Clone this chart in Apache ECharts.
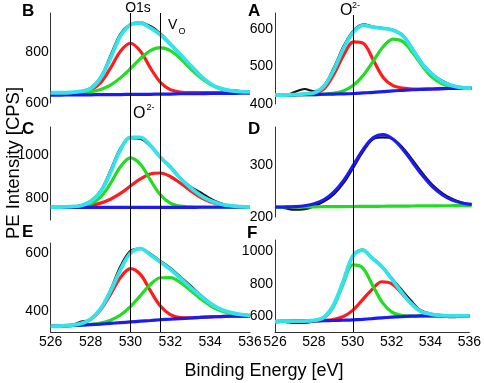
<!DOCTYPE html>
<html><head><meta charset="utf-8">
<script src="https://cdn.jsdelivr.net/npm/echarts@6/dist/echarts.min.js"></script>
<style>html,body{margin:0;padding:0;background:#fff}#c{width:484px;height:383px}</style>
</head><body><div id="c"></div>
<script>
// ---- data ----
const energy = [526, 526.5, 527, 527.5, 528, 528.5, 529, 529.5, 530, 530.5, 531, 531.5, 532, 532.5, 533, 533.5, 534, 534.5, 535, 535.5, 536];
const xTicks = [526, 528, 530, 532, 534, 536];
const refLinesLeft = [530, 531.5];
const refLinesRight = [530];

// Panel B
const bBlack = [642, 639, 640, 646, 659, 700, 785, 870, 907, 915, 900, 872, 832, 788, 745, 705, 674, 655, 650, 646, 641];
const bCyan  = [640, 640, 641, 645, 656, 697, 775, 862, 905, 912, 893, 866, 830, 790, 748, 708, 676, 657, 648, 644, 643];
const bRed   = [637, 637, 638, 640, 650, 679, 736, 802, 833, 802, 737, 681, 652, 643, 641, 641, 641, 641, 642, 642, 642];
const bGreen = [637, 637, 638, 640, 644, 653, 670, 698, 734, 773, 804, 816, 804, 774, 735, 700, 673, 656, 648, 644, 643];
const bBlue  = [631, 631, 632, 632, 632, 633, 633, 633, 634, 634, 634, 635, 635, 636, 636, 636, 637, 637, 637, 638, 638];
const yTicksB = [600, 800];

// Panel A
const aBlack = [425, 423, 432, 440, 434, 450, 498, 556, 597, 613, 607, 603, 598, 584, 548, 508, 480, 462, 450, 443, 441];
const aCyan  = [424, 424, 425, 427, 430, 448, 492, 550, 593, 610, 605, 602, 597, 582, 545, 506, 479, 460, 449, 444, 442];
const aRed   = [424, 424, 424.5, 425.5, 428, 441, 480, 532, 566, 561.5, 517, 471, 449, 442.5, 440, 439.5, 440, 441, 441.5, 442, 442];
const aGreen = [424, 424, 424.5, 425, 425, 426.5, 429, 435.5, 450.5, 477.5, 515, 553, 573, 566.5, 537, 501, 471, 454, 446, 443, 442];
const aBlue  = [424, 424, 424.5, 425, 425, 426, 426.5, 427, 428, 429.5, 431, 433, 435, 436.5, 438, 439, 440, 441, 441.5, 442, 442];
const yTicksA = [400, 500, 600];

// Panel C
const cBlack = [758, 762, 760, 768, 788, 835, 930, 1032, 1078, 1075, 1042, 992, 948, 895, 855, 828, 800, 778, 766, 761, 759];
const cCyan  = [760, 760, 762, 766, 785, 830, 920, 1025, 1082, 1082, 1045, 990, 945, 893, 850, 815, 790, 774, 766, 762, 760];
const cGreen = [760, 760, 760.5, 763, 774, 806, 869, 946, 987, 958, 885, 816.5, 778, 764, 761, 760, 760, 760, 760, 760, 760];
const cRed   = [760, 760.3, 761, 763, 767.7, 778, 796, 822.8, 857, 890, 912.8, 917.4, 901.2, 871, 836.5, 805.8, 784.1, 771, 764.4, 761.5, 760.4];
const cBlue  = [758, 758, 758, 758, 758, 758, 758, 758, 758, 758, 758.5, 758.5, 758.5, 758.5, 758.5, 759, 759, 759, 759, 759, 759];
const yTicksC = [800, 1000];

// Panel D
const dBlack = [220, 217, 214, 215, 221, 230, 244, 266, 296, 327, 350, 353, 350, 333, 309, 284, 262, 246, 235, 228, 224];
const dBlue  = [219, 219.4, 220, 221.6, 225.4, 233.5, 248.3, 271, 300.8, 330.9, 352.5, 358.4, 349.4, 330, 304.8, 279.6, 258.2, 242.7, 232.7, 227, 224.2];
const dGreen = [219, 219.2, 219.3, 219.5, 219.6, 219.8, 219.9, 220.1, 220.2, 220.4, 220.5, 220.7, 220.8, 221, 221.1, 221.3, 221.4, 221.6, 221.7, 221.9, 222];
const yTicksD = [200, 300];

// Panel E
const eBlack = [350, 351, 352, 365, 372, 410, 475, 555, 608, 616, 598, 574, 550, 520, 490, 458, 430, 408, 394, 388, 386];
const eCyan  = [349, 350.5, 353.1, 358.7, 373.9, 409.2, 469.8, 542.9, 600, 615.5, 594.5, 570, 545, 515, 484, 455, 428, 409, 397, 390, 387];
const eRed   = [349, 350.5, 353.1, 358.5, 372.8, 405.4, 458.9, 516.8, 547.5, 527.6, 471.5, 419, 389.8, 379.8, 378.7, 380, 381.5, 383, 384, 384.5, 385];
const eGreen = [349, 350.5, 352, 353.7, 356.1, 360.8, 370.4, 388.1, 417, 454.9, 492.5, 515.9, 516.5, 499.8, 473.5, 445.1, 420.7, 403.9, 394, 388.7, 386.6];
const eBlue  = [349, 350.5, 352, 353.5, 355, 357, 359.5, 362, 364.5, 367, 369.5, 372, 374, 376, 378, 380, 381.5, 383, 384, 384.5, 385];
const yTicksE = [400, 600];

// Panel F
const fBlack = [566, 562, 556, 557, 566, 585, 655, 815, 975, 1012, 962, 910, 836, 765, 695, 632, 608, 598, 592, 594, 598];
const fCyan  = [565, 566, 567, 568, 572, 590, 665, 810, 970, 1008, 958, 905, 830, 750, 678, 628, 611, 603, 600.5, 600, 600];
const fRed   = [565, 566, 567, 568, 569.2, 571.4, 577.8, 595, 634, 699.3, 765, 812, 800, 743, 678, 632, 610.8, 602.6, 600.5, 600, 600];
const fGreen = [565, 566, 567, 568.2, 571.3, 588.5, 655.2, 794.6, 916.6, 900.1, 795.3, 687.2, 624.7, 603.2, 599.3, 599.6, 600, 600, 600, 600, 600];
const fBlue  = [565, 566, 567, 568, 569, 570, 571.5, 573, 575, 578.5, 583, 588, 592, 595.5, 598, 599.5, 600, 600, 600, 600, 600];
const yTicksF = [600, 800, 1000];

// ---- styling / layout ----
const FONT = '"Liberation Sans", Arial, Helvetica, sans-serif';
const COL = {black: '#111111', red: '#ff1c1c', green: '#22dc22', blue: '#1c1cf0', cyan: '#34e2ea'};
const LW = {black: 2.2, red: 3.2, green: 3.2, blue: 3.2, cyan: 3.8};

const LEFT = {left: 50.7, width: 199.3};
const RIGHT = {left: 275, width: 196.7};

const panels = [
  {g: LEFT,  top: 13,  height: 90, min: 600, max: 951,  interval: 200, ticks: yTicksB, bottom: false,
   s: [['black', bBlack], ['red', bRed], ['green', bGreen], ['blue', bBlue], ['cyan', bCyan]]},
  {g: RIGHT, top: 13,  height: 91, min: 400, max: 643,  interval: 100, ticks: yTicksA, bottom: false,
   s: [['black', aBlack], ['red', aRed], ['green', aGreen], ['blue', aBlue], ['cyan', aCyan]]},
  {g: LEFT,  top: 127, height: 93, min: 700, max: 1130, interval: 100, ticks: yTicksC, bottom: false,
   s: [['black', cBlack], ['red', cRed], ['green', cGreen], ['blue', cBlue], ['cyan', cCyan]]},
  {g: RIGHT, top: 127, height: 90, min: 200, max: 373,  interval: 100, ticks: yTicksD, bottom: false,
   s: [['black', dBlack], ['green', dGreen], ['blue', dBlue]]},
  {g: LEFT,  top: 243, height: 89, min: 330, max: 635,  interval: 10,  ticks: yTicksE, bottom: true,
   s: [['black', eBlack], ['red', eRed], ['green', eGreen], ['blue', eBlue], ['cyan', eCyan]]},
  {g: RIGHT, top: 240, height: 92, min: 500, max: 1071, interval: 100, ticks: yTicksF, bottom: true,
   s: [['black', fBlack], ['red', fRed], ['green', fGreen], ['blue', fBlue], ['cyan', fCyan]]}
];

const grid = [], xAxis = [], yAxis = [], series = [];
panels.forEach((p, i) => {
  grid.push({left: p.g.left, width: p.g.width, top: p.top, height: p.height, containLabel: false});
  xAxis.push({
    gridIndex: i, type: 'value', min: 526, max: 536, interval: 2, show: p.bottom,
    axisLine: {show: true, onZero: false, lineStyle: {color: '#333', width: 1}},
    axisTick: {show: false}, splitLine: {show: false},
    axisLabel: {show: true, fontSize: 14, color: '#000', margin: 3, fontFamily: FONT,
      formatter: v => xTicks.includes(v) ? String(v) : ''}
  });
  yAxis.push({
    gridIndex: i, type: 'value', min: p.min, max: p.max, interval: p.interval,
    axisLine: {show: true, onZero: false, lineStyle: {color: '#333', width: 1}},
    axisTick: {show: false}, splitLine: {show: false},
    axisLabel: {fontSize: 14, color: '#000', margin: 2, fontFamily: FONT,
      formatter: v => p.ticks.includes(Math.round(v)) && Math.abs(v - Math.round(v)) < 1e-6 ? String(Math.round(v)) : ''}
  });
  p.s.forEach(([c, arr]) => {
    series.push({
      type: 'line', xAxisIndex: i, yAxisIndex: i, silent: true,
      data: energy.map((e, k) => [e, arr[k]]),
      smooth: 0.35, symbol: 'none', showSymbol: false,
      lineStyle: {color: COL[c], width: LW[c]}, z: 2
    });
  });
});

// overlay grids for the continuous vertical reference lines
const overlays = [
  {g: LEFT, top: 13, height: 319, lines: refLinesLeft},
  {g: RIGHT, top: 15, height: 317, lines: refLinesRight}
];
overlays.forEach(o => {
  const i = grid.length;
  grid.push({left: o.g.left, width: o.g.width, top: o.top, height: o.height});
  xAxis.push({gridIndex: i, type: 'value', min: 526, max: 536, show: false});
  yAxis.push({gridIndex: i, type: 'value', min: 0, max: 1, show: false});
  series.push({
    type: 'line', xAxisIndex: i, yAxisIndex: i, data: [], silent: true, z: 6,
    markLine: {silent: true, symbol: ['none', 'none'], label: {show: false},
      lineStyle: {color: '#000', width: 1, type: 'solid'},
      emphasis: {disabled: true},
      data: o.lines.map(v => ({xAxis: v}))}
  });
});

const txt = (text, x, y, size, opts = {}) => ({
  type: 'text', x, y, rotation: opts.rotation || 0, z: 10,
  style: {text, font: (opts.bold ? 'bold ' : '') + size + 'px ' + FONT, fill: '#000',
    align: opts.align || 'left', verticalAlign: 'middle'}
});

const graphic = [
  txt('B', 22, 11, 17, {bold: true}),
  txt('A', 248, 11, 17, {bold: true}),
  txt('C', 22, 129, 17, {bold: true}),
  txt('D', 248, 129, 17, {bold: true}),
  txt('E', 22, 232, 17, {bold: true}),
  txt('F', 247, 233, 17, {bold: true}),
  txt('O1s', 138, 8, 14, {align: 'center'}),
  txt('V', 168, 25, 14),
  txt('O', 178.5, 31.5, 9),
  txt('O', 340, 11, 16),
  txt('2-', 352, 5.5, 9),
  txt('O', 133, 114, 16),
  txt('2-', 146.5, 108, 9),
  txt('PE Intensity [CPS]', 13.5, 163, 18.5, {align: 'center', rotation: Math.PI / 2}),
  txt('Binding Energy [eV]', 264, 371, 18, {align: 'center'})
];

const chart = echarts.init(document.getElementById('c'), null, {renderer: 'canvas'});
chart.setOption({
  animation: false, backgroundColor: '#fff',
  textStyle: {fontFamily: FONT},
  grid, xAxis, yAxis, series, graphic
});
</script></body></html>
